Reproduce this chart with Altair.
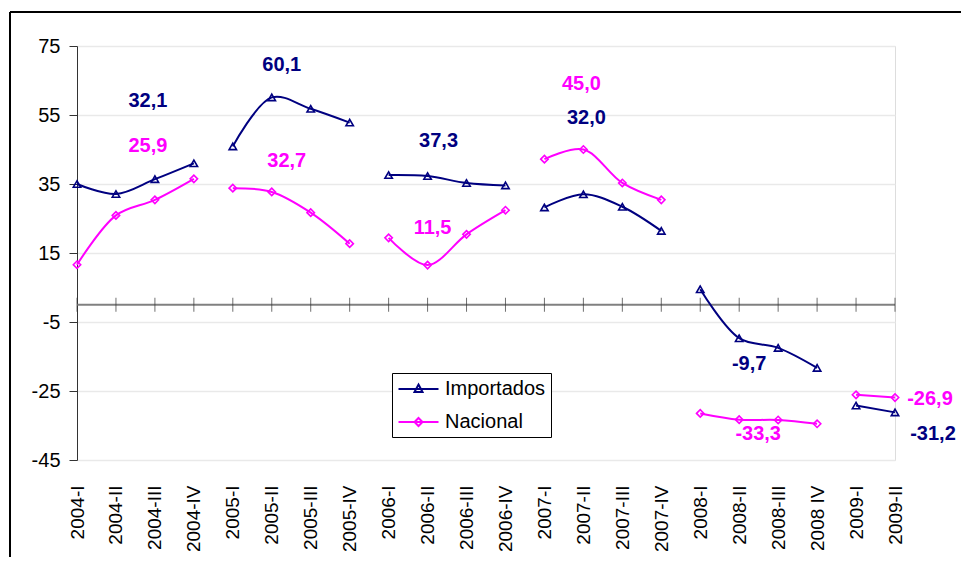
import altair as alt
import pandas as pd

categories = ["2004-I", "2004-II", "2004-III", "2004-IV",
              "2005-I", "2005-II", "2005-III", "2005-IV",
              "2006-I", "2006-II", "2006-III", "2006-IV",
              "2007-I", "2007-II", "2007-III", "2007-IV",
              "2008-I", "2008-II", "2008-III", "2008 IV",
              "2009-I", "2009-II"]
years = [c[:4] for c in categories]

importados = [35.0, 32.1, 36.4, 41.0,
              45.9, 60.1, 56.8, 52.8,
              37.6, 37.3, 35.3, 34.6,
              28.2, 32.0, 28.4, 21.4,
              4.5, -9.7, -12.5, -18.3,
              -29.2, -31.2]
nacional = [11.6, 25.9, 30.4, 36.5,
            33.8, 32.7, 26.7, 17.7,
            19.4, 11.5, 20.4, 27.4,
            42.2, 45.0, 35.3, 30.4,
            -31.5, -33.3, -33.4, -34.5,
            -26.1, -26.9]

series_names = ["Importados", "Nacional"]
series_colors = ["#000080", "#FF00FF"]
series_markers = ["triangle-up", "diamond"]
color_of = dict(zip(series_names, series_colors))

# value annotations: text, series, anchor category, label height (data units), horizontal nudge (px)
ann_text = ["32,1", "25,9", "60,1", "32,7", "37,3", "11,5",
            "45,0", "32,0", "-9,7", "-33,3", "-26,9", "-31,2"]
ann_series = ["Importados", "Nacional", "Importados", "Nacional", "Importados", "Nacional",
              "Nacional", "Importados", "Importados", "Nacional", "Nacional", "Importados"]
ann_cat = ["2004-III", "2004-III", "2005-II", "2005-II", "2006-II", "2006-II",
           "2007-II", "2007-II", "2008-II", "2008-II", "2009-II", "2009-II"]
ann_y = [59.1, 46.1, 69.5, 41.8, 47.6, 22.3,
         63.9, 54.2, -17.3, -37.5, -27.3, -37.5]
ann_dx = [-7, -7, 10, 15, 11, 5, -2, 3, 10, 19, 35, 38]

y_ticks = [-45, -25, -5, 15, 35, 55, 75]

rows = []
for name, vals, mk in zip(series_names, [importados, nacional], series_markers):
    for c, yr, v in zip(categories, years, vals):
        rows.append({"cat": c, "year": yr, "series": name, "value": v, "mk": mk,
                     "col": color_of[name]})
df = pd.DataFrame(rows)

ann = pd.DataFrame({"text": ann_text, "series": ann_series, "cat": ann_cat,
                    "y": ann_y, "dx": ann_dx,
                    "col": [color_of[s] for s in ann_series]})

W, H = 818, 414
FONT = "Arial, Liberation Sans, sans-serif"

xscale = alt.Scale(type="point", domain=categories, padding=0)
yscale = alt.Scale(domain=[-45, 75], nice=False, zero=False)

x_axis = alt.Axis(title=None, labelAngle=-90, labelFont=FONT, labelFontSize=19,
                  labelColor="black", domain=False, ticks=False, tickSize=0,
                  labelPadding=25, grid=False, labelOverlap=False)
y_axis = alt.Axis(title=None, values=y_ticks, labelFont=FONT, labelFontSize=20,
                  labelColor="black", domainColor="#333333", domainWidth=1,
                  tickColor="#333333", tickSize=8, tickWidth=1, labelPadding=9,
                  grid=True, gridColor="#e9e9e9", gridWidth=1.5,
                  labelExpr="'' + datum.value")


def X(field="cat:N"):
    return alt.X(field, scale=xscale, sort=categories, axis=x_axis)


def Y(field):
    return alt.Y(field, scale=yscale, axis=y_axis)


zero_rule = alt.Chart(pd.DataFrame({"z": [0]})).mark_rule(color="#808080", strokeWidth=2).encode(
    y=Y("z:Q")
)
zero_ticks = alt.Chart(pd.DataFrame({"cat": categories, "z": [0] * len(categories)})).mark_tick(
    orient="vertical", size=14, thickness=1, color="#333333").encode(
    x=X(), y=Y("z:Q")
)

base = alt.Chart(df)
lines = base.mark_line(interpolate="catmull-rom", strokeWidth=2).encode(
    x=X(), y=Y("value:Q"),
    color=alt.Color("col:N", scale=None),
    detail=["year:N", "series:N"],
)

points = base.mark_point(filled=False, size=55, strokeWidth=1.6, opacity=1).encode(
    x=X(), y=Y("value:Q"),
    color=alt.Color("col:N", scale=None),
    shape=alt.Shape("mk:N", scale=None),
)

texts = alt.Chart(ann).mark_text(font=FONT, fontSize=20, fontWeight="bold",
                                 align="center", baseline="middle").encode(
    x=X(), y=Y("y:Q"),
    xOffset=alt.XOffset("dx:Q", scale=None),
    color=alt.Color("col:N", scale=None),
    text="text:N",
)

legend_paths = [
    "M-0.95,0L3.05,0M1.05,-0.45L1.45,0.3L0.65,0.3Z",
    "M-0.95,0L3.05,0M1.05,-0.4L1.45,0L1.05,0.4L0.65,0Z",
]
leg = alt.Legend(title=None, orient="none", legendX=315, legendY=327,
                 labelFont=FONT, labelFontSize=20, labelColor="black",
                 symbolSize=400, symbolStrokeWidth=2, labelOffset=26,
                 rowPadding=12, padding=5,
                 strokeColor="black", fillColor="white", cornerRadius=0)
legend_layer = alt.Chart(pd.DataFrame({"series": series_names,
                                       "cat": [categories[0]] * 2,
                                       "v": [None, None]})).mark_point(
    filled=False, strokeWidth=2).encode(
    x=X(), y=Y("v:Q"),
    color=alt.Color("series:N", scale=alt.Scale(domain=series_names, range=series_colors),
                    legend=leg),
    shape=alt.Shape("series:N", scale=alt.Scale(domain=series_names, range=legend_paths),
                    legend=leg),
)

frame_left = alt.Chart(pd.DataFrame({"a": [0]})).mark_rule(color="black", strokeWidth=2).encode(
    x=alt.value(-67), y=alt.value(-34), y2=alt.value(H + 120))
frame_top = alt.Chart(pd.DataFrame({"a": [0]})).mark_rule(color="black", strokeWidth=2).encode(
    x=alt.value(-67), x2=alt.value(W + 80), y=alt.value(-34))

chart = alt.layer(zero_rule, lines, zero_ticks, points, texts, legend_layer,
                  frame_left, frame_top).properties(
    width=W, height=H,
    autosize=alt.AutoSizeParams(type="none"),
    padding={"left": 69, "top": 38, "right": 66, "bottom": 97},
).configure_view(stroke=None).configure(background="white")

chart.save("out.html", embed_options={"renderer": "svg", "actions": False})
